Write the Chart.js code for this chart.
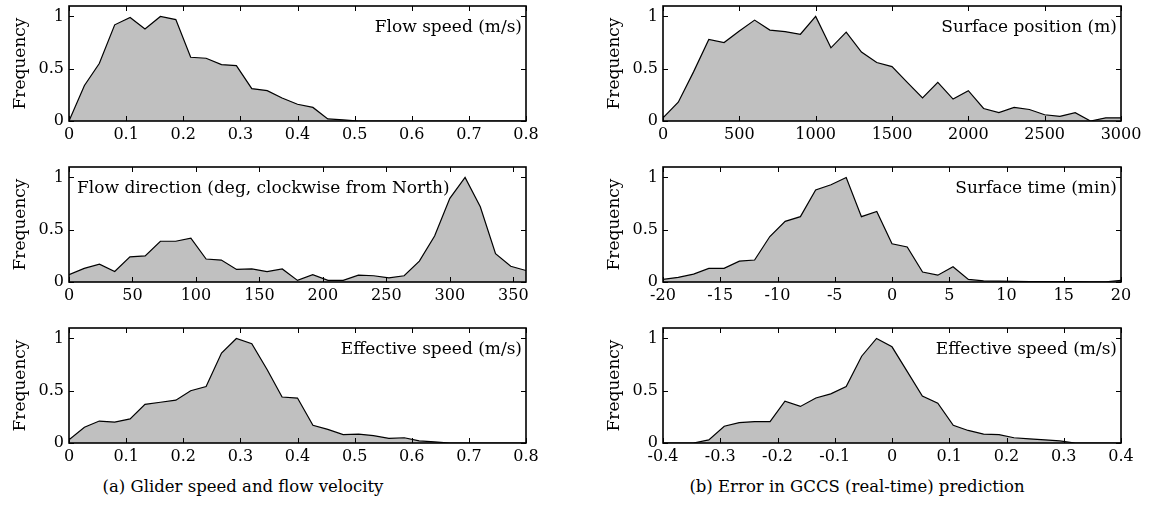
<!DOCTYPE html>
<html>
<head>
<meta charset="utf-8">
<script src="https://cdn.jsdelivr.net/npm/chart.js@4.4.1/dist/chart.umd.min.js"></script>
<style>
  body { margin: 0; background: #fff; }
  #page { position: relative; width: 1149px; height: 510px; overflow: hidden; }
  .panel { position: absolute; }
  .caption { position: absolute; font-family: 'DejaVu Serif'; font-size: 16.5px; line-height: 24px; color: #000; white-space: nowrap; transform: translateX(-50%); }
</style>
</head>
<body>
<div id="page">
  <div class="panel" style="left:0;top:0"><canvas id="flowSpeed" width="540" height="145"></canvas></div>
  <div class="panel" style="left:0;top:161px"><canvas id="flowDir" width="540" height="145"></canvas></div>
  <div class="panel" style="left:0;top:322px"><canvas id="effSpeedA" width="540" height="145"></canvas></div>
  <div class="panel" style="left:594px;top:0"><canvas id="surfPos" width="555" height="145"></canvas></div>
  <div class="panel" style="left:594px;top:161px"><canvas id="surfTime" width="555" height="145"></canvas></div>
  <div class="panel" style="left:594px;top:322px"><canvas id="effSpeedB" width="555" height="145"></canvas></div>
  <div class="caption" style="left:243px;top:475px">(a) Glider speed and flow velocity</div>
  <div class="caption" style="left:857px;top:475px">(b) Error in GCCS (real-time) prediction</div>
</div>
<script>
// histogram bins (x) and normalised frequency (y)
var speedBins = [0, 0.027, 0.053, 0.08, 0.107, 0.133, 0.16, 0.187, 0.213, 0.24, 0.267, 0.293, 0.32, 0.347, 0.373, 0.4,
                 0.427, 0.453, 0.48, 0.507, 0.533, 0.56, 0.587, 0.613, 0.64, 0.667, 0.693, 0.72, 0.747, 0.773, 0.8];
var flowSpeedFreq = [0, 0.34, 0.55, 0.92, 0.99, 0.88, 1.0, 0.97, 0.61, 0.60, 0.54, 0.53, 0.31, 0.29, 0.22, 0.16,
                     0.13, 0.02, 0.01, 0, 0, 0, 0, 0, 0, 0, 0, 0, 0, 0, 0];
var effSpeedFreq = [0.03, 0.15, 0.21, 0.20, 0.23, 0.37, 0.39, 0.41, 0.50, 0.54, 0.86, 1.0, 0.95, 0.70, 0.44, 0.43,
                    0.17, 0.13, 0.08, 0.085, 0.07, 0.045, 0.05, 0.02, 0.01, 0, 0, 0, 0, 0, 0];

var dirBins = [0, 12, 24, 36, 48, 60, 72, 84, 96, 108, 120, 132, 144, 156, 168, 180, 192, 204, 216, 228, 240,
               252, 264, 276, 288, 300, 312, 324, 336, 348, 360];
var flowDirFreq = [0.07, 0.13, 0.17, 0.10, 0.24, 0.25, 0.39, 0.39, 0.42, 0.22, 0.21, 0.12, 0.125, 0.10, 0.125, 0.015,
                   0.07, 0.015, 0.015, 0.065, 0.06, 0.04, 0.06, 0.20, 0.44, 0.80, 1.0, 0.72, 0.27, 0.15, 0.11];

var posBins = [0, 100, 200, 300, 400, 500, 600, 700, 800, 900, 1000, 1100, 1200, 1300, 1400, 1500, 1600, 1700,
               1800, 1900, 2000, 2100, 2200, 2300, 2400, 2500, 2600, 2700, 2800, 2900, 3000];
var surfPosFreq = [0.03, 0.18, 0.47, 0.78, 0.75, 0.86, 0.965, 0.87, 0.855, 0.83, 1.0, 0.70, 0.85, 0.66, 0.56, 0.52,
                   0.37, 0.22, 0.37, 0.21, 0.29, 0.12, 0.08, 0.13, 0.11, 0.06, 0.045, 0.08, 0, 0.03, 0.03];

var timeBins = [-20, -18.67, -17.33, -16, -14.67, -13.33, -12, -10.67, -9.33, -8, -6.67, -5.33, -4, -2.67, -1.33, 0,
                1.33, 2.67, 4, 5.33, 6.67, 8, 9.33, 10.67, 12, 13.33, 14.67, 16, 17.33, 18.67, 20];
var surfTimeFreq = [0.025, 0.045, 0.075, 0.13, 0.13, 0.20, 0.21, 0.435, 0.58, 0.625, 0.88, 0.93, 1.0, 0.625, 0.675, 0.365,
                    0.335, 0.095, 0.065, 0.145, 0.025, 0.01, 0.008, 0.006, 0.005, 0.004, 0.003, 0.003, 0.002, 0.002, 0.015];

var errBins = [-0.4, -0.373, -0.347, -0.32, -0.293, -0.267, -0.24, -0.213, -0.187, -0.16, -0.133, -0.107, -0.08, -0.053,
               -0.027, 0, 0.027, 0.053, 0.08, 0.107, 0.133, 0.16, 0.187, 0.213, 0.24, 0.267, 0.293, 0.32, 0.347, 0.373, 0.4];
var errSpeedFreq = [0, 0, 0, 0.03, 0.16, 0.195, 0.205, 0.205, 0.40, 0.35, 0.43, 0.47, 0.54, 0.83, 1.0, 0.92,
                    0.68, 0.45, 0.38, 0.17, 0.12, 0.085, 0.08, 0.05, 0.04, 0.03, 0.02, 0, 0, 0, 0];

// tick values and their labels
var speedTicks = [0, 0.1, 0.2, 0.3, 0.4, 0.5, 0.6, 0.7, 0.8];
var speedTickLabels = ['0', '0.1', '0.2', '0.3', '0.4', '0.5', '0.6', '0.7', '0.8'];
var dirTicks = [0, 50, 100, 150, 200, 250, 300, 350];
var dirTickLabels = ['0', '50', '100', '150', '200', '250', '300', '350'];
var posTicks = [0, 500, 1000, 1500, 2000, 2500, 3000];
var posTickLabels = ['0', '500', '1000', '1500', '2000', '2500', '3000'];
var timeTicks = [-20, -15, -10, -5, 0, 5, 10, 15, 20];
var timeTickLabels = ['-20', '-15', '-10', '-5', '0', '5', '10', '15', '20'];
var errTicks = [-0.4, -0.3, -0.2, -0.1, 0, 0.1, 0.2, 0.3, 0.4];
var errTickLabels = ['-0.4', '-0.3', '-0.2', '-0.1', '0', '0.1', '0.2', '0.3', '0.4'];
var freqTicks = [0, 0.5, 1];
var freqTickLabels = ['0', '0.5', '1'];

var serif = "'DejaVu Serif'";
Chart.defaults.font.family = serif;
Chart.defaults.font.size = 16;
Chart.defaults.color = '#000';

// box round the plot, inward ticks on all four sides, and the panel's label
var framePlugin = {
    id: 'frame',
    afterDatasetsDraw: function(chart, args, opts) {
        var ctx = chart.ctx, a = chart.chartArea;
        var x = chart.scales.x, y = chart.scales.y;
        ctx.save();
        ctx.strokeStyle = '#000';
        ctx.lineWidth = 1;
        ctx.beginPath();
        x.ticks.forEach(function(t) {
            var px = Math.round(x.getPixelForValue(t.value)) + 0.5;
            ctx.moveTo(px, a.bottom); ctx.lineTo(px, a.bottom - 5);
            ctx.moveTo(px, a.top); ctx.lineTo(px, a.top + 5);
        });
        y.ticks.forEach(function(t) {
            var py = Math.round(y.getPixelForValue(t.value)) + 0.5;
            ctx.moveTo(a.left, py); ctx.lineTo(a.left + 5, py);
            ctx.moveTo(a.right, py); ctx.lineTo(a.right - 5, py);
        });
        ctx.stroke();
        ctx.lineWidth = 1.6;
        ctx.strokeRect(a.left, a.top, a.right - a.left, a.bottom - a.top);

        ctx.fillStyle = '#000';
        ctx.font = '17px ' + serif;
        ctx.textBaseline = 'alphabetic';
        if (opts.align === 'left') {
            ctx.textAlign = 'left';
            ctx.fillText(opts.text, a.left + 8, a.top + 26);
        } else {
            ctx.textAlign = 'right';
            ctx.fillText(opts.text, a.right - 4, a.top + 26);
        }
        ctx.restore();
    }
};

function makePanel(id, bins, freq, xTicks, xLabels, label, align, rightPad) {
    var points = bins.map(function(b, i) { return {x: b, y: freq[i]}; });
    return new Chart(document.getElementById(id).getContext('2d'), {
        type: 'line',
        data: {
            datasets: [{
                data: points,
                borderColor: '#000',
                borderWidth: 1.2,
                backgroundColor: '#c0c0c0',
                fill: 'origin',
                pointRadius: 0,
                tension: 0
            }]
        },
        options: {
            responsive: false,
            animation: false,
            events: [],
            layout: { padding: { top: 6, right: rightPad, bottom: 0, left: 0 } },
            plugins: {
                legend: { display: false },
                tooltip: { enabled: false },
                frame: { text: label, align: align }
            },
            scales: {
                x: {
                    type: 'linear',
                    min: xTicks[0],
                    max: bins[bins.length - 1] > xTicks[xTicks.length - 1] ? bins[bins.length - 1] : xTicks[xTicks.length - 1],
                    grid: { display: false, drawTicks: false },
                    border: { display: false },
                    afterBuildTicks: function(s) { s.ticks = xTicks.map(function(v) { return {value: v}; }); },
                    afterFit: function(s) { s.height = 24; s.paddingLeft = 0; s.paddingRight = 0; },
                    ticks: {
                        autoSkip: false,
                        maxRotation: 0,
                        padding: 4,
                        callback: function(v, i) { return xLabels[i]; }
                    }
                },
                y: {
                    min: 0,
                    max: 1.1,
                    grid: { display: false, drawTicks: false },
                    border: { display: false },
                    afterBuildTicks: function(s) { s.ticks = freqTicks.map(function(v) { return {value: v}; }); },
                    afterFit: function(s) { s.width = 69; s.paddingTop = 0; s.paddingBottom = 0; },
                    ticks: {
                        padding: 5,
                        callback: function(v, i) { return freqTickLabels[i]; }
                    },
                    title: {
                        display: true,
                        text: 'Frequency',
                        font: { size: 17 },
                        padding: { top: 10, bottom: 0 }
                    }
                }
            }
        },
        plugins: [framePlugin]
    });
}

makePanel('flowSpeed', speedBins, flowSpeedFreq, speedTicks, speedTickLabels, 'Flow speed (m/s)', 'right', 14);
makePanel('flowDir', dirBins, flowDirFreq, dirTicks, dirTickLabels, 'Flow direction (deg, clockwise from North)', 'left', 14);
makePanel('effSpeedA', speedBins, effSpeedFreq, speedTicks, speedTickLabels, 'Effective speed (m/s)', 'right', 14);
makePanel('surfPos', posBins, surfPosFreq, posTicks, posTickLabels, 'Surface position (m)', 'right', 28);
makePanel('surfTime', timeBins, surfTimeFreq, timeTicks, timeTickLabels, 'Surface time (min)', 'right', 28);
makePanel('effSpeedB', errBins, errSpeedFreq, errTicks, errTickLabels, 'Effective speed (m/s)', 'right', 28);
</script>
</body>
</html>
